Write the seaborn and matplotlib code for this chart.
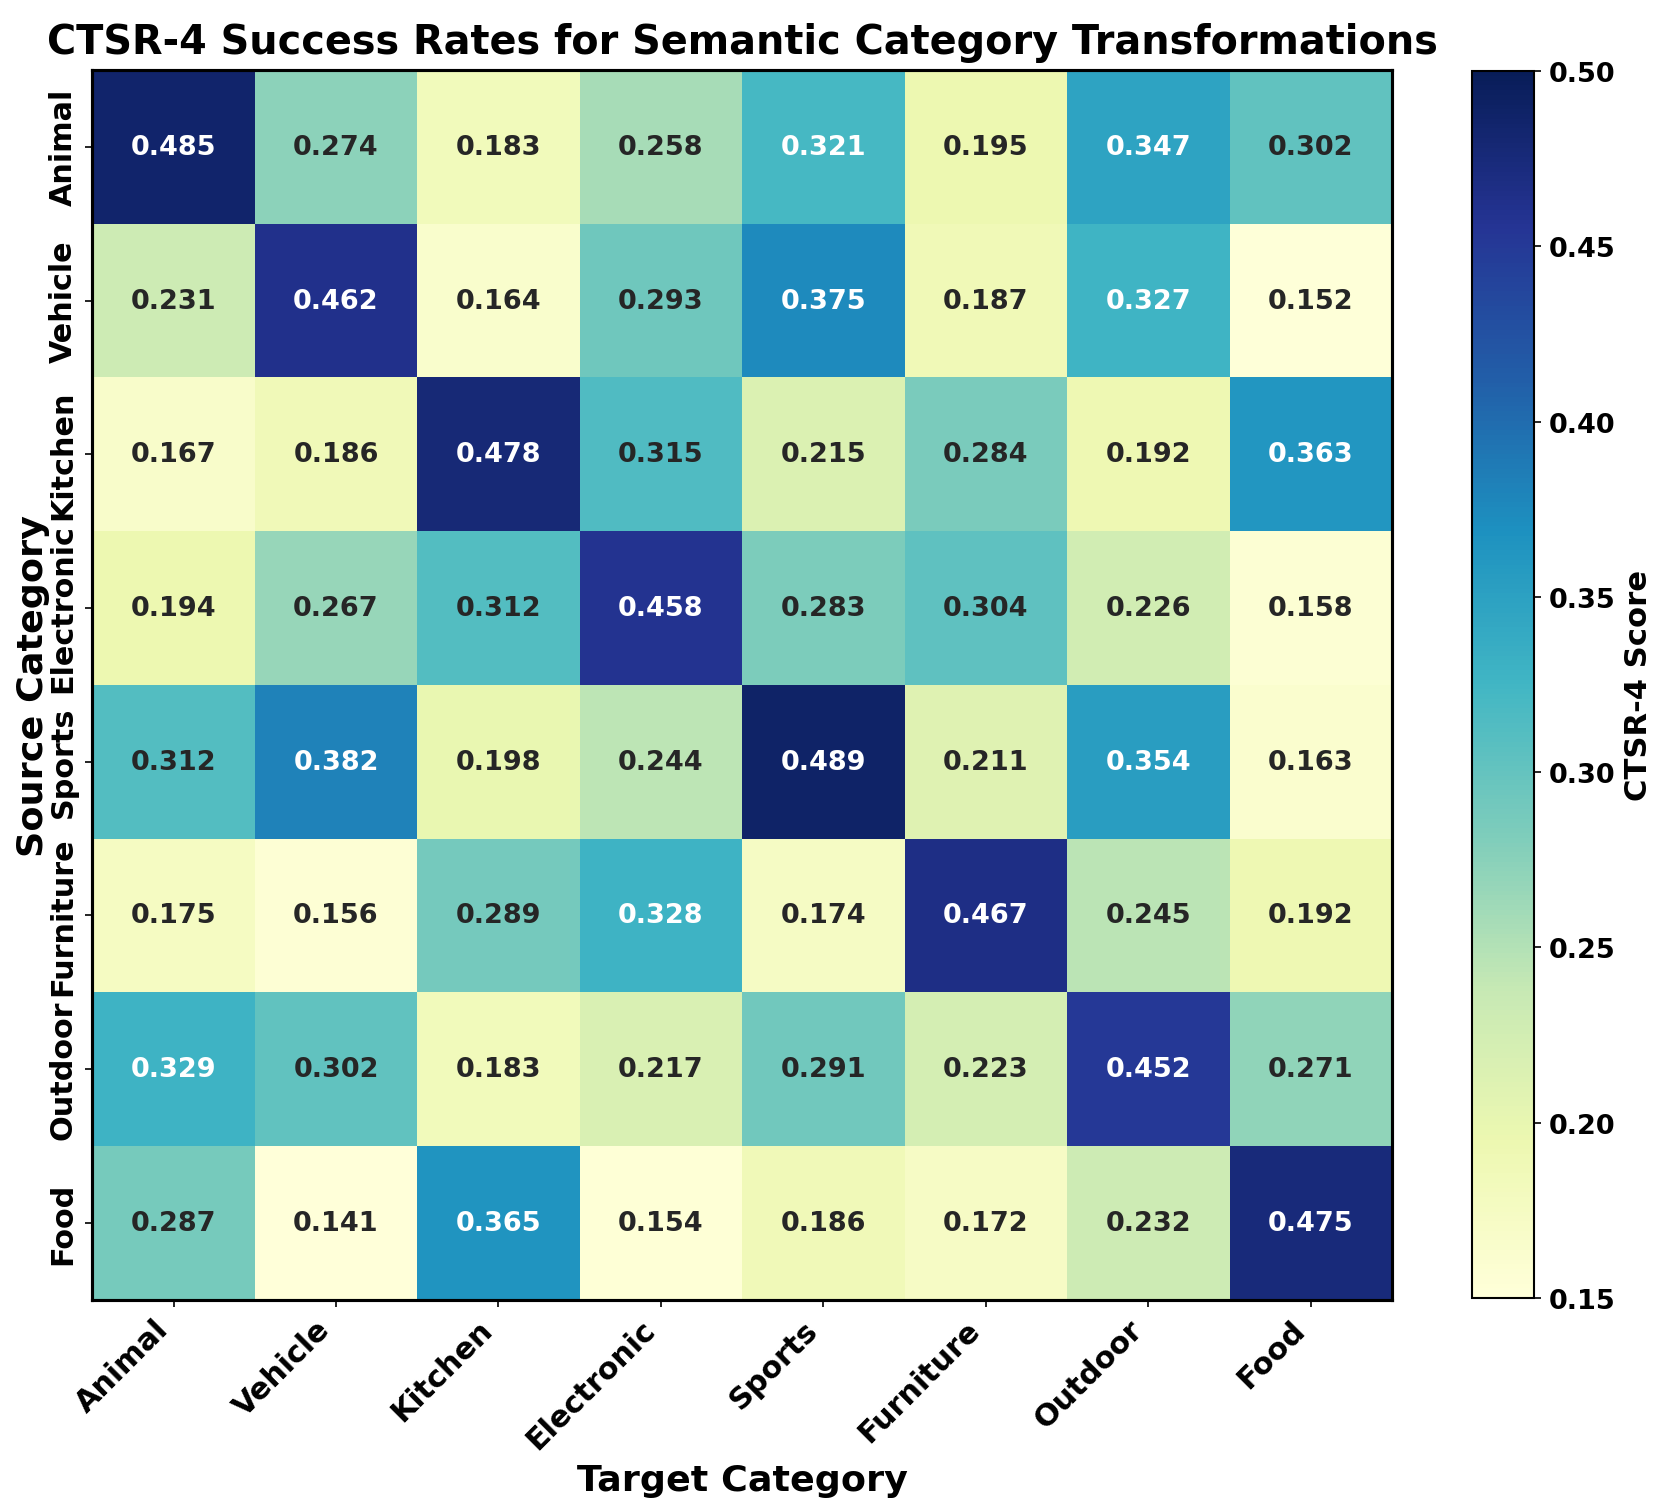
import matplotlib
matplotlib.use("Agg")
import matplotlib.pyplot as plt
import seaborn as sns
import numpy as np
import pandas as pd

categories = ["Animal", "Vehicle", "Kitchen", "Electronic", "Sports", "Furniture", "Outdoor", "Food"]
row_animal = [0.485, 0.274, 0.183, 0.258, 0.321, 0.195, 0.347, 0.302]
row_vehicle = [0.231, 0.462, 0.164, 0.293, 0.375, 0.187, 0.327, 0.152]
row_kitchen = [0.167, 0.186, 0.478, 0.315, 0.215, 0.284, 0.192, 0.363]
row_electronic = [0.194, 0.267, 0.312, 0.458, 0.283, 0.304, 0.226, 0.158]
row_sports = [0.312, 0.382, 0.198, 0.244, 0.489, 0.211, 0.354, 0.163]
row_furniture = [0.175, 0.156, 0.289, 0.328, 0.174, 0.467, 0.245, 0.192]
row_outdoor = [0.329, 0.302, 0.183, 0.217, 0.291, 0.223, 0.452, 0.271]
row_food = [0.287, 0.141, 0.365, 0.154, 0.186, 0.172, 0.232, 0.475]

df = pd.DataFrame([row_animal, row_vehicle, row_kitchen, row_electronic,
                   row_sports, row_furniture, row_outdoor, row_food],
                  index=categories, columns=categories)

plt.rcParams['font.family'] = ['DejaVu Sans']
plt.rcParams['font.weight'] = 'bold'

fig = plt.figure(figsize=(11.0667, 10.04), dpi=150)
ax = fig.add_axes([0.0556, 0.1363, 0.783, 0.8166])
cax = fig.add_axes([0.8867, 0.1375, 0.0373, 0.8147])

sns.heatmap(df, ax=ax, cbar_ax=cax, cmap="YlGnBu", vmin=0.15, vmax=0.5,
            annot=True, fmt=".3f",
            annot_kws={"fontsize": 13, "fontweight": "bold"})

for s in ax.spines.values():
    s.set_visible(True)
    s.set_linewidth(1.5)
    s.set_color("black")

ax.set_title("CTSR-4 Success Rates for Semantic Category Transformations",
             fontsize=19.1, fontweight="bold", pad=8)
ax.set_xlabel("Target Category", fontsize=17.5, fontweight="bold")
ax.set_ylabel("Source Category", fontsize=17.5, fontweight="bold")
ax.yaxis.set_label_coords(-0.0325, 0.5)
ax.set_xticklabels(categories, rotation=45, ha="right", fontsize=14.5, fontweight="bold")
ax.set_yticklabels(categories, rotation=90, va="center", fontsize=14.5, fontweight="bold")

cbar = ax.collections[0].colorbar
cbar.set_label("CTSR-4 Score", fontsize=14.7, fontweight="bold")
cbar.outline.set_visible(True)
cbar.outline.set_linewidth(1.0)
ticks = [0.15, 0.20, 0.25, 0.30, 0.35, 0.40, 0.45, 0.50]
cbar.set_ticks(ticks)
cbar.ax.set_yticklabels([f"{t:.2f}" for t in ticks], fontsize=13, fontweight="bold")

fig.savefig("out.png", dpi=150)
